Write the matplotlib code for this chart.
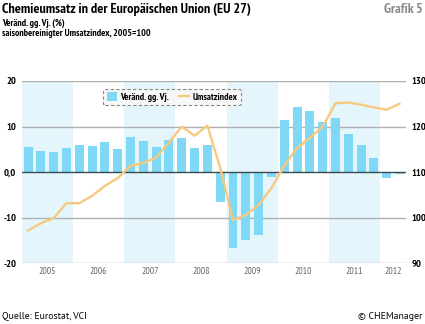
import numpy as np
import matplotlib.pyplot as plt

plt.rcParams['font.family'] = ['PT Sans Narrow', 'DejaVu Sans']

# Quartalswerte 2005 Q1 bis 2012 Q2
veraend = [5.5, 4.7, 4.4, 5.4,
           5.9, 5.8, 6.7, 5.1,
           7.7, 6.9, 5.5, 7.1,
           7.4, 5.3, 5.9, -6.6,
           -16.7, -14.9, -13.8, -1.1,
           11.5, 14.3, 13.5, 11.1,
           11.9, 8.4, 5.9, 3.2,
           -1.2, -0.3]
umsatzindex = [97.2, 98.8, 99.9, 103.2,
               103.2, 104.8, 107.0, 108.7,
               111.4, 112.0, 113.2, 116.5,
               120.0, 118.0, 120.2, 111.0,
               99.5, 100.6, 102.8, 106.5,
               111.4, 115.3, 117.5, 120.0,
               125.1, 125.3, 124.8, 124.2,
               123.7, 125.0]
jahre = ['2005', '2006', '2007', '2008', '2009', '2010', '2011', '2012']
links_ticks = [-20, -10, 0, 10, 20]
links_labels = ['-20', '-10', '0,0', '10', '20']
rechts_ticks = [90, 100, 110, 120, 130]

bar_col = '#7fd9f6'
band_col = '#e4f6fc'
line_col = '#f6c97e'

fig = plt.figure(figsize=(4.25, 3.24), dpi=100)
ax = fig.add_axes([0.051, 0.1873, 0.904, 0.5627])
ax2 = ax.twinx()

n = len(veraend)
x = np.arange(n) + 0.5

# hellblaue Hintergrundstreifen fuer jedes zweite Jahr
for j in range(0, len(jahre), 2):
    ax.axvspan(4 * j, min(4 * j + 4, n), color=band_col, lw=0, zorder=0)

for t in links_ticks:
    if t == 0:
        continue
    ax.axhline(t, color='#b0b0b0', lw=1.0, zorder=1)

ax.bar(x, veraend, width=0.7, color=bar_col, zorder=2, label='Veränd. gg. Vj.')
ax.axhline(0, color='#3a4a50', lw=1.0, zorder=3)

ax2.plot(x, umsatzindex, color=line_col, lw=1.7, zorder=4, label='Umsatzindex')

ax.set_xlim(0, n)
ax.set_ylim(-20, 20)
ax2.set_ylim(90, 130)

ax.set_yticks(links_ticks)
ax.set_yticklabels(links_labels, fontsize=7.5, fontweight='bold')
ax2.set_yticks(rechts_ticks)
ax2.set_yticklabels([str(t) for t in rechts_ticks], fontsize=7.5, fontweight='bold')
ax.tick_params(axis='y', length=0, pad=4)
ax2.tick_params(axis='y', length=0, pad=4)

centers = [min(4 * j + 2, (4 * j + n) / 2) for j in range(len(jahre))]
ax.set_xticks(centers)
ax.set_xticklabels(jahre, fontsize=7, color='#666666')
ax.tick_params(axis='x', length=0, pad=3)

for a in (ax, ax2):
    for s in a.spines.values():
        s.set_visible(False)

h1, l1 = ax.get_legend_handles_labels()
h2, l2 = ax2.get_legend_handles_labels()
leg = ax2.legend(h1 + h2, l1 + l2, loc='upper left', bbox_to_anchor=(0.2, 0.985),
                 ncol=2, frameon=True, fancybox=True,
                 handlelength=1.0, handleheight=1.0, columnspacing=1.0,
                 handletextpad=0.4, borderpad=0.35, prop={'weight': 'bold', 'size': 7})
leg.get_frame().set_edgecolor('#888888')
leg.get_frame().set_linestyle((0, (3, 2)))
leg.get_frame().set_facecolor('#f7f7f7')
leg.get_frame().set_alpha(1)
leg.get_frame().set_linewidth(0.8)

fig.text(0.005, 0.97, 'Chemieumsatz in der Europäischen Union (EU 27)',
         fontsize=10.2, fontweight='bold', va='center', ha='left')
fig.text(0.995, 0.97, 'Grafik 5', fontsize=10, fontweight='bold',
         color='#8a8a8a', va='center', ha='right')
fig.text(0.005, 0.927, 'Veränd. gg. Vj. (%)', fontsize=7, fontweight='bold',
         va='center', ha='left')
fig.text(0.005, 0.898, 'saisonbereinigter Umsatzindex, 2005=100', fontsize=7,
         fontweight='bold', va='center', ha='left')
fig.text(0.005, 0.023, 'Quelle: Eurostat, VCI', fontsize=7, va='center', ha='left',
         family=['PT Sans', 'DejaVu Sans'])
fig.text(0.995, 0.023, '© CHEManager', fontsize=7, va='center', ha='right',
         family=['PT Sans', 'DejaVu Sans'])

fig.savefig('out.png', dpi=100)
